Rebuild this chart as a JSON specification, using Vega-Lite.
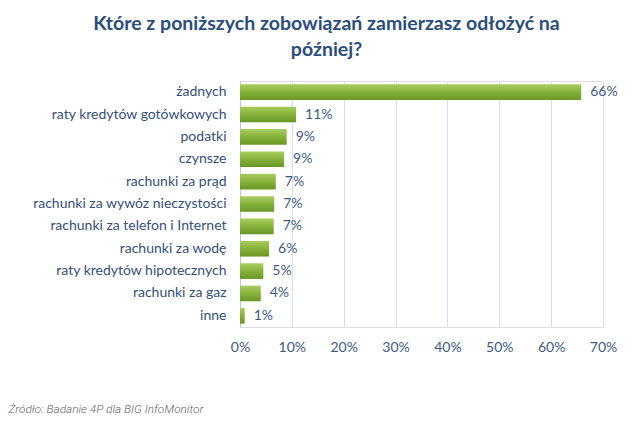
{
  "$schema": "https://vega.github.io/schema/vega-lite/v6.json",
  "width": 363,
  "height": 246,
  "autosize": {"type": "none"},
  "padding": {"left": 240, "top": 81, "right": 37, "bottom": 97},
  "background": "white",
  "title": {
    "text": ["Które z poniższych zobowiązań zamierzasz odłożyć na", "później?"],
    "font": "Lato",
    "fontSize": 19.5,
    "fontWeight": "bold",
    "color": "#2b4e7c",
    "anchor": "middle",
    "dx": -95,
    "offset": 21,
    "lineHeight": 26
  },
  "data": {
    "values": [
      {"kategoria": "żadnych", "wartosc": 65.8, "etykieta": "66%"},
      {"kategoria": "raty kredytów gotówkowych", "wartosc": 10.8, "etykieta": "11%"},
      {"kategoria": "podatki", "wartosc": 9.0, "etykieta": "9%"},
      {"kategoria": "czynsze", "wartosc": 8.5, "etykieta": "9%"},
      {"kategoria": "rachunki za prąd", "wartosc": 6.9, "etykieta": "7%"},
      {"kategoria": "rachunki za wywóz nieczystości", "wartosc": 6.6, "etykieta": "7%"},
      {"kategoria": "rachunki za telefon i Internet", "wartosc": 6.5, "etykieta": "7%"},
      {"kategoria": "rachunki za wodę", "wartosc": 5.6, "etykieta": "6%"},
      {"kategoria": "raty kredytów hipotecznych", "wartosc": 4.5, "etykieta": "5%"},
      {"kategoria": "rachunki za gaz", "wartosc": 4.0, "etykieta": "4%"},
      {"kategoria": "inne", "wartosc": 0.9, "etykieta": "1%"}
    ]
  },
  "encoding": {
    "y": {
      "field": "kategoria",
      "type": "nominal",
      "sort": null,
      "scale": {"paddingInner": 0.3, "paddingOuter": 0.15},
      "axis": {
        "title": null,
        "ticks": false,
        "domain": true,
        "domainColor": "#bfc8d4",
        "labelFont": "Lato",
        "labelFontSize": 14,
        "labelColor": "#34507a",
        "labelPadding": 14,
        "labelLimit": 300
      }
    },
    "x": {
      "field": "wartosc",
      "type": "quantitative",
      "scale": {"domain": [0, 70], "nice": false},
      "axis": {
        "values": [0, 10, 20, 30, 40, 50, 60, 70],
        "labelExpr": "datum.value + '%'",
        "labelFlush": false,
        "domain": false,
        "ticks": false,
        "grid": true,
        "gridColor": "#d5dfeb",
        "labelFont": "Lato",
        "labelFontSize": 14,
        "labelColor": "#3d5a84",
        "labelPadding": 13,
        "title": "Źródło: Badanie 4P dla BIG InfoMonitor",
        "titleFont": "Roboto",
        "titleFontStyle": "italic",
        "titleFontWeight": 300,
        "titleFontSize": 11.8,
        "titleColor": "#5f5f5f",
        "titleAnchor": "start",
        "titleAlign": "left",
        "titleBaseline": "middle",
        "titleX": -232,
        "titleY": 81
      }
    }
  },
  "layer": [
    {
      "mark": {
        "type": "bar",
        "color": {
          "gradient": "linear",
          "x1": 0, "y1": 0, "x2": 0, "y2": 1,
          "stops": [
            {"offset": 0, "color": "#a9cd5f"},
            {"offset": 0.5, "color": "#86b23a"},
            {"offset": 1, "color": "#6a9526"}
          ]
        }
      }
    },
    {
      "mark": {
        "type": "text",
        "align": "left",
        "baseline": "middle",
        "dx": 9,
        "font": "Lato",
        "fontSize": 14,
        "color": "#3d5a84"
      },
      "encoding": {"text": {"field": "etykieta"}}
    }
  ]
}
